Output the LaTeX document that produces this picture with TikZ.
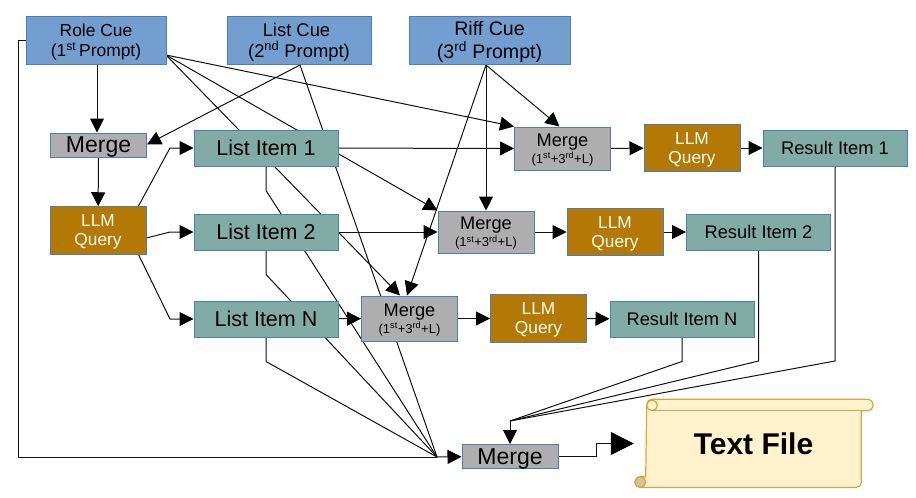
\documentclass[tikz,border=0pt]{standalone}
\usepackage{fontspec}
\setmainfont{Liberation Sans}
\usetikzlibrary{arrows.meta}
\usetikzlibrary{backgrounds}

\definecolor{cueblue}{HTML}{729FCF}
\definecolor{itemteal}{HTML}{81ACA6}
\definecolor{llmgold}{HTML}{B47804}
\definecolor{mergegray}{HTML}{AEAEAE}
\definecolor{boxline}{HTML}{4F7DB5}
\definecolor{wireline}{HTML}{111111}
\definecolor{scrollfill}{HTML}{FFF2CC}
\definecolor{scrollline}{HTML}{D6A63F}
\definecolor{scrollcurl}{HTML}{D2C49A}

\newcommand{\mergenote}{{\fontsize{13}{15}\selectfont (1\textsuperscript{st}+3\textsuperscript{rd}+L)}}

\tikzset{
  basebox/.style={draw=boxline,line width=1pt,inner sep=0pt,align=center,text=black,text depth=0pt},
  cue/.style={basebox,fill=cueblue,minimum height=48pt},
  mergebox/.style={basebox,fill=mergegray,minimum width=96pt},
  llm/.style={basebox,fill=llmgold,text=white!96!yellow,minimum width=96pt,minimum height=47.5pt,
    font=\fontsize{17.3}{19}\selectfont},
  item/.style={basebox,fill=itemteal,minimum width=144pt,minimum height=36pt,
    font=\fontsize{21.5}{24}\selectfont},
  result/.style={item,font=\fontsize{18.3}{22}\selectfont},
  wire/.style={draw=wireline,line width=1pt,-{Triangle[length=14pt,width=14pt,color=black]}},
  plainwire/.style={draw=wireline,line width=1pt},
}

\begin{document}
\begin{tikzpicture}[x=1pt,y=-1pt]
\useasboundingbox (0,0) rectangle (916,498);

% scroll
\draw[fill=scrollfill,draw=scrollline,line width=1.2pt]
  (640.3,487.5) -- (856,487.5) arc (90:0:5.3) -- (861.3,410.7) -- (867.4,410.7)
  arc (90:-90:5.7) -- (652,399.3) arc (-90:-180:5.3) -- (645.7,476.7) -- (640.3,476.7)
  arc (-90:-270:5.4) -- cycle;
\draw[fill=scrollcurl,draw=scrollline,line width=1.2pt] (640.3,482) circle (5.4);
\draw[draw=scrollline,line width=1.2pt] (652,410.7) -- (861.3,410.7);
\draw[fill=scrollfill,draw=scrollline,line width=1.2pt] (652,405.3) circle (5.3);
\node[inner sep=0pt,minimum width=239pt,minimum height=89pt,font=\fontsize{30}{34}\selectfont\bfseries]
  (textFile) at (753.5,443.5) {Text File};

% cues
\node[cue,minimum width=140pt,font=\fontsize{17.4}{20.5}\selectfont] (roleCue) at (96,40)
  {Role Cue\\(1\textsuperscript{st}\,Prompt)};
\node[cue,minimum width=144pt,font=\fontsize{18.4}{21}\selectfont] (listCue) at (299,40)
  {List Cue\hspace*{5pt}\\(2\textsuperscript{nd} Prompt)};
\node[cue,minimum width=161pt,font=\fontsize{19.6}{23}\selectfont] (riffCue) at (489.5,40)
  {Riff Cue\\(3\textsuperscript{rd} Prompt)};

% first column
\node[mergebox,minimum height=24pt,font=\fontsize{23}{26}\selectfont] (mergeA) at (98.5,145) {Merge};
\node[llm] (llmA) at (98,230.5) {LLM\\Query};

% list items
\node[item] (itemA) at (266,148) {List Item 1};
\node[item] (itemB) at (266,232) {List Item 2};
\node[item] (itemN) at (266,319) {List Item N};

% merges
\node[mergebox,minimum height=43pt,font=\fontsize{18.2}{17}\selectfont] (mergeB) at (562.5,148.5) {Merge\\\mergenote};
\node[mergebox,minimum height=42pt,font=\fontsize{18.2}{17}\selectfont] (mergeC) at (486,232) {Merge\\\mergenote};
\node[mergebox,minimum height=45pt,font=\fontsize{18.2}{17}\selectfont] (mergeN) at (409.5,318.5) {Merge\\\mergenote};

% queries
\node[llm] (llmB) at (692,148) {LLM\\Query};
\node[llm] (llmC) at (615,232) {LLM\\Query};
\node[llm] (llmN) at (538.5,318.5) {LLM\\Query};

% results
\node[result] (resultA) at (835,148) {Result Item 1};
\node[result] (resultB) at (758.5,232) {Result Item 2};
\node[result] (resultN) at (682,319) {Result Item N};

% last merge
\node[mergebox,minimum height=24pt,font=\fontsize{23}{26}\selectfont] (mergeZ) at (510,456.5) {Merge};

% free ends of the wires
\coordinate (roleOut) at (166,55);
\coordinate (listOut) at (300,65);
\coordinate (riffOut) at (486,65);
\coordinate (llmOut) at (126,229);
\coordinate (hubIn) at (437,457);
\coordinate (hubOut) at (510,421);

\begin{scope}[on background layer]
\draw[wire] ([xshift=1pt]roleCue.south) -- ([xshift=-1.5pt]mergeA.north);
\draw[wire] (mergeA) -- (llmA);
\draw[wire] (listOut) -- ([yshift=0.5pt]mergeA.east);

% out of the first query
\draw[wire] (llmOut) -- (170,148) -- (itemA);
\draw[wire] (llmA.east |- 0,238) -- (170,232) -- (itemB);
\draw[wire] (llmOut) -- (170,319) -- (itemN);

% role cue
\draw[wire] (roleOut) -- (mergeB.north west);
\draw[wire] (roleOut) -- (mergeC.north west);
\draw[wire] (roleOut) -- ([xshift=-9.5pt]mergeN.north);

% riff cue
\draw[wire] (riffOut) -- ([xshift=-3pt]mergeB.north);
\draw[wire] (riffOut) -- (mergeC.north);
\draw[wire] (riffOut) -- ([xshift=-2.5pt]mergeN.north);

% items into merges
\draw[wire] (itemA) -- (mergeB);
\draw[wire] (itemB) -- (mergeC);
\draw[wire] (itemN) -- (mergeN);

% merge to result
\foreach \from/\via/\to in {mergeB/llmB/resultA,mergeC/llmC/resultB,mergeN/llmN/resultN}{
  \draw[wire] (\from) -- (\via);
  \draw[wire] (\via) -- (\to);
}

% all into the last merge
\draw[plainwire] (roleCue.west |- 0,40.5) -- (18,40.5) -- (18,457) -- (hubIn);
\draw[plainwire] (listOut) -- (hubIn);
\foreach \from in {itemA,itemB,itemN}{
  \draw[plainwire] (\from.south) -- ++(0,24) -- (hubIn);
}
\draw[wire] (hubIn) -- (mergeZ);

\draw[plainwire] (resultN.south) -- ++(0,24) -- (hubOut);
\draw[plainwire] (resultB.south) -- (758.5,361) -- (hubOut);
\draw[plainwire] (resultA.south) -- (835,361) -- (hubOut);
\draw[wire] (hubOut) -- (mergeZ);

\draw[wire,-{Triangle[length=23pt,width=23pt,color=black]}] (mergeZ) -- (596.5,456.5) -- (596.5,443.5) -- (textFile);
\end{scope}
\end{tikzpicture}
\end{document}
